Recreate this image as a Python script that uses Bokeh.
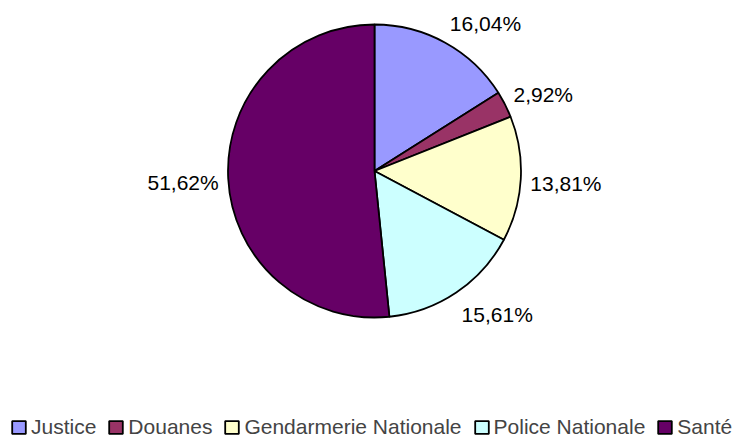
import math
from bokeh.plotting import figure
from bokeh.models import Range1d, Legend, LegendItem, ColumnDataSource
from bokeh.embed import file_html
from bokeh.resources import INLINE
from bokeh.core.properties import value

# ---- data ----
categories = ["Justice", "Douanes", "Gendarmerie Nationale", "Police Nationale", "Santé"]
shares = [16.04, 2.92, 13.81, 15.61, 51.62]
labels = ["16,04%", "2,92%", "13,81%", "15,61%", "51,62%"]
colors = ["#9999FF", "#993366", "#FFFFCC", "#CCFFFF", "#660066"]

# ---- layout ----
W, H = 735, 439
CX, CY = 374.0, 268.5
R = 146.5
R_LABEL = 156.0
H_OFF = 13.0
LOW_EXTRA = 3.0
FONT = "Liberation Sans"
FSIZE = "21px"

total = sum(shares)
starts, ends, lx, ly, aligns, yoffs = [], [], [], [], [], []
cum = 0.0
for s in shares:
    a_end = 90.0 - cum / total * 360.0
    a_start = 90.0 - (cum + s) / total * 360.0
    mid = math.radians(90.0 - (cum + s / 2.0) / total * 360.0)
    starts.append(a_start)
    ends.append(a_end)
    c, sn = math.cos(mid), math.sin(mid)
    lx.append(CX + R_LABEL * c)
    ly.append(CY + R_LABEL * sn)
    aligns.append("left" if c >= 0 else "right")
    yoffs.append(-H_OFF * sn + (LOW_EXTRA if sn < 0 else 0.0))
    cum += s

src = ColumnDataSource(dict(cat=categories, start=starts, end=ends, color=colors,
                            lx=lx, ly=ly, lab=labels, align=aligns, yoff=yoffs,
                            x=[CX] * len(shares), y=[CY] * len(shares)))

p = figure(width=W, height=H, x_range=Range1d(0, W), y_range=Range1d(0, H),
           min_border=0, toolbar_location=None, output_backend="svg",
           x_axis_location=None, y_axis_location=None)
p.xgrid.visible = False
p.ygrid.visible = False
p.outline_line_color = None
p.background_fill_color = "white"

wr = p.wedge(x="x", y="y", radius=R, start_angle="start", end_angle="end",
             start_angle_units="deg", end_angle_units="deg",
             fill_color="color", line_color="black", line_width=1.8, source=src)

p.text(x="lx", y="ly", text="lab", source=src, text_align="align",
       text_baseline="middle", y_offset="yoff",
       text_font=value(FONT), text_font_size=FSIZE, text_color="black")

items = [LegendItem(label=c, renderers=[wr], index=i) for i, c in enumerate(categories)]
legend = Legend(items=items, orientation="horizontal", location=(10, 0),
                padding=0, margin=0, spacing=11, label_standoff=4,
                glyph_width=17, glyph_height=16,
                label_text_font=FONT, label_text_font_size=FSIZE,
                border_line_alpha=0, background_fill_alpha=0)
p.add_layout(legend)

open("out.html", "w").write(file_html(p, INLINE))
